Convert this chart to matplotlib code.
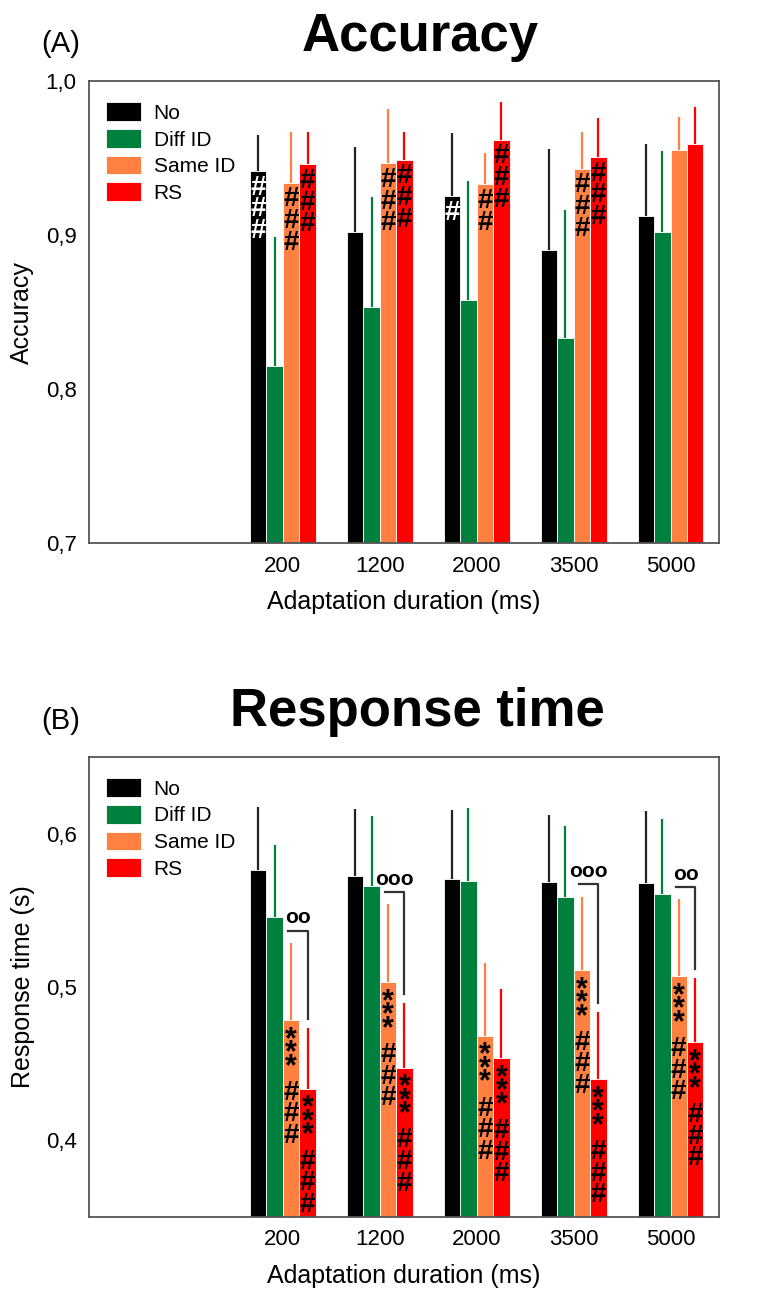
import numpy as np
import matplotlib.pyplot as plt
from matplotlib.ticker import FuncFormatter

plt.rcParams['font.family'] = ['Liberation Sans', 'DejaVu Sans']

durations = ['200', '1200', '2000', '3500', '5000']
conditions = ['No', 'Diff ID', 'Same ID', 'RS']
colors = ['#000000', '#00803E', '#FF8040', '#FF0000']
err_colors = ['#222222', '#00803E', '#FF8040', '#FF0000']

# accuracy (proportion correct) and upper error
acc_no = [0.9415, 0.9017, 0.9254, 0.8906, 0.9125]
acc_diff = [0.815, 0.853, 0.858, 0.833, 0.9023]
acc_same = [0.934, 0.9465, 0.933, 0.943, 0.9555]
acc_rs = [0.946, 0.949, 0.962, 0.9506, 0.959]
acc_no_err = [0.0238, 0.0558, 0.0412, 0.0654, 0.0465]
acc_diff_err = [0.084, 0.0714, 0.077, 0.0836, 0.0522]
acc_same_err = [0.0327, 0.0355, 0.020, 0.024, 0.021]
acc_rs_err = [0.0212, 0.018, 0.0245, 0.0254, 0.024]

# response time (s) and upper error
rt_no = [0.5763, 0.5721, 0.5704, 0.5686, 0.568]
rt_diff = [0.5456, 0.566, 0.5693, 0.5586, 0.5605]
rt_same = [0.4784, 0.503, 0.468, 0.511, 0.507]
rt_rs = [0.4335, 0.4474, 0.4535, 0.4398, 0.4639]
rt_no_err = [0.0412, 0.0439, 0.0449, 0.0434, 0.047]
rt_diff_err = [0.0469, 0.0457, 0.0471, 0.0464, 0.0488]
rt_same_err = [0.0504, 0.051, 0.0478, 0.0479, 0.0501]
rt_rs_err = [0.0395, 0.0419, 0.0452, 0.0437, 0.0421]

# number of '#' / '*' marks per bar (rows: No, Diff ID, Same ID, RS)
acc_hash = [[3, 0, 1, 0, 0], [0, 0, 0, 0, 0], [3, 3, 2, 3, 0], [3, 3, 3, 3, 0]]
rt_star = [[0] * 5, [0] * 5, [3, 3, 3, 3, 3], [3, 3, 3, 3, 3]]
rt_hash = [[0] * 5, [0] * 5, [3, 3, 3, 3, 3], [3, 3, 3, 3, 3]]
# Same ID vs RS comparison
rt_pair = ['oo', 'ooo', '', 'ooo', 'oo']

fig = plt.figure(figsize=(7.72, 12.93), dpi=100)
ax1 = fig.add_axes([0.1153, 0.58, 0.816, 0.3573])
ax2 = fig.add_axes([0.1153, 0.0588, 0.816, 0.3558])

xc = np.arange(len(durations)) + 2.0
w = 0.17
PX = 0.72  # points per pixel


def draw_panel(ax, means, errs, ylim, yticks, ylabel):
    for i, (m, e) in enumerate(zip(means, errs)):
        xs = xc + (i - 1.5) * w
        ax.bar(xs, m, width=w, color=colors[i], edgecolor='white', linewidth=0.6,
               label=conditions[i], zorder=2)
        ax.vlines(xs, m, np.array(m) + np.array(e), color=err_colors[i], lw=1.6, zorder=1)
    ax.set_xlim(0, 6.5)
    ax.set_ylim(*ylim)
    ax.set_yticks(yticks)
    ax.yaxis.set_major_formatter(FuncFormatter(lambda v, p: f'{v:.1f}'.replace('.', ',')))
    ax.set_xticks(xc)
    ax.set_xticklabels(durations)
    ax.tick_params(length=0, labelsize=16, pad=9)
    ax.set_xlabel('Adaptation duration (ms)', fontsize=18, labelpad=10)
    ax.set_ylabel(ylabel, fontsize=18, labelpad=8)
    for s in ax.spines.values():
        s.set_color('#555555')
        s.set_linewidth(1.3)
    ax.legend(loc='upper left', frameon=False, fontsize=15, handlelength=1.7, handleheight=1.0,
              labelspacing=0.3, handletextpad=0.6, borderaxespad=0.4, bbox_to_anchor=(0.0, 0.99))


def marks(ax, means, counts, sym, size, lift, start, step):
    # lift: height of the glyph centre above its baseline, in pixels
    for i in range(4):
        xs = xc + (i - 1.5) * w
        for j, n in enumerate(counts[i]):
            for k in range(n):
                dy = -(start + step * k) - lift
                ax.annotate(sym, xy=(xs[j], means[i][j]), xytext=(0, dy * PX),
                            textcoords='offset points', ha='center', va='baseline',
                            fontsize=size, fontweight='bold',
                            color='white' if i == 0 else 'black',
                            zorder=3, annotation_clip=False)


draw_panel(ax1, [acc_no, acc_diff, acc_same, acc_rs],
           [acc_no_err, acc_diff_err, acc_same_err, acc_rs_err],
           (0.7, 1.0), [0.7, 0.8, 0.9, 1.0], 'Accuracy')
draw_panel(ax2, [rt_no, rt_diff, rt_same, rt_rs],
           [rt_no_err, rt_diff_err, rt_same_err, rt_rs_err],
           (0.35, 0.65), [0.4, 0.5, 0.6], 'Response time (s)')

marks(ax1, [acc_no, acc_diff, acc_same, acc_rs], acc_hash, '#', 20, 9.6, 14, 21.7)
marks(ax2, [rt_no, rt_diff, rt_same, rt_rs], rt_star, '*', 22, 17.7, 10, 13.5)
marks(ax2, [rt_no, rt_diff, rt_same, rt_rs], rt_hash, '#', 20, 9.6, 70, 21.7)

# brackets between Same ID and RS
for j, lab in enumerate(rt_pair):
    if not lab:
        continue
    xl = xc[j] + 0.5 * w - 0.03
    xr = xc[j] + 1.5 * w
    yb = rt_same[j] + rt_same_err[j] + 0.008
    yd = rt_rs[j] + rt_rs_err[j] + 0.006
    ax2.plot([xl, xr, xr], [yb, yb, yd], color='#333333', lw=1.6, zorder=3)
    ax2.text((xl + xr) / 2, yb + 0.002, lab, ha='center', va='bottom',
             fontsize=15, fontweight='bold')

fig.text(0.544, 0.971, 'Accuracy', ha='center', va='center', fontsize=38, fontweight='bold')
fig.text(0.54, 0.449, 'Response time', ha='center', va='center', fontsize=38, fontweight='bold')
fig.text(0.079, 0.966, '(A)', ha='center', va='center', fontsize=21)
fig.text(0.079, 0.442, '(B)', ha='center', va='center', fontsize=21)

fig.savefig('out.png', dpi=100)
